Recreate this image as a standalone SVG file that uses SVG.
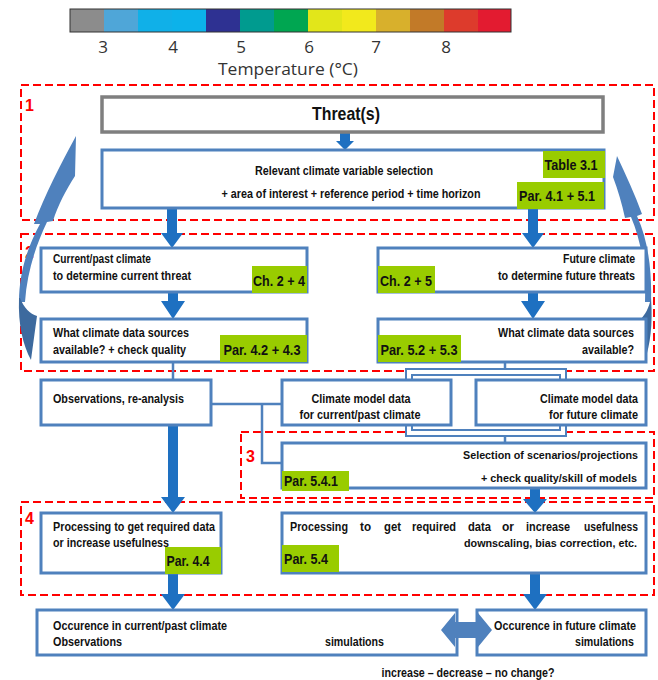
<svg xmlns="http://www.w3.org/2000/svg" width="658" height="680" viewBox="0 0 658 680">
  <style>
    .box { fill: #ffffff; stroke: #4f81bd; stroke-width: 3; }
    .gray { fill: #ffffff; stroke: #7f7f7f; stroke-width: 3.5; }
    .tag { fill: #99cc00; }
    .zone { fill: none; stroke: #ff0000; stroke-width: 2; stroke-dasharray: 8 4; }
    .zl { font-family: "Liberation Sans", Arial, sans-serif; font-weight: bold; font-size: 16px; fill: #ff0000; }
    .t { font-family: "Liberation Sans", Arial, sans-serif; font-weight: bold; font-size: 12.5px; fill: #111111; }
    .s { font-size: 11.5px; }
    .g { font-family: "Liberation Sans", Arial, sans-serif; font-weight: bold; font-size: 15px; fill: #111111; text-anchor: middle; }
    .r { text-anchor: end; }
    .m { text-anchor: middle; }
    .arrow { fill: #1e70c1; }
    .thin { fill: none; stroke: #4f81bd; stroke-width: 2.5; }
    .bracket { fill: none; stroke: #4f81bd; stroke-width: 8; stroke-linejoin: miter; }
    .bracket-in { fill: none; stroke: #ffffff; stroke-width: 4; stroke-linejoin: miter; }
    .scale { font-family: "Open Sans", "Noto Sans", sans-serif; font-size: 17px; fill: #333333; text-anchor: middle; }
  </style>

  <!-- temperature colour scale -->
  <g id="colorbar">
    <rect x="70" y="9" width="34" height="23" fill="#8c8c8c"/>
    <rect x="104" y="9" width="34" height="23" fill="#4fa6d8"/>
    <rect x="138" y="9" width="34" height="23" fill="#10b0e8"/>
    <rect x="172" y="9" width="34" height="23" fill="#0cb2ea"/>
    <rect x="206" y="9" width="34" height="23" fill="#2e3192"/>
    <rect x="240" y="9" width="34" height="23" fill="#009b8f"/>
    <rect x="274" y="9" width="34" height="23" fill="#00a651"/>
    <rect x="308" y="9" width="34" height="23" fill="#e2e61a"/>
    <rect x="342" y="9" width="34" height="23" fill="#f2e91c"/>
    <rect x="376" y="9" width="34" height="23" fill="#d8b02c"/>
    <rect x="410" y="9" width="34" height="23" fill="#c27a28"/>
    <rect x="444" y="9" width="34" height="23" fill="#dd3b2c"/>
    <rect x="478" y="9" width="33" height="23" fill="#e31b30"/>
    <rect x="70" y="9" width="441" height="23" fill="none" stroke="#333333" stroke-width="1"/>
    <text class="scale" x="103" y="53">3</text>
    <text class="scale" x="173" y="53">4</text>
    <text class="scale" x="241" y="53">5</text>
    <text class="scale" x="309" y="53">6</text>
    <text class="scale" x="376" y="53">7</text>
    <text class="scale" x="446" y="53">8</text>
    <text class="scale" x="288" y="75" textLength="140" lengthAdjust="spacingAndGlyphs">Temperature (°C)</text>
  </g>

  <!-- numbered step zones -->
  <g id="zones">
    <rect class="zone" x="21" y="85" width="633" height="135"/>
    <rect class="zone" x="21" y="234" width="633" height="137"/>
    <rect class="zone" x="241" y="432" width="413" height="66"/>
    <rect class="zone" x="21" y="502" width="633" height="93"/>
    <text class="zl" x="25" y="111">1</text>
    <text class="zl" x="25" y="258">2</text>
    <text class="zl" x="246" y="462">3</text>
    <text class="zl" x="25" y="524">4</text>
  </g>

  <!-- connectors -->
  <g id="connectors">
    <!-- feedback loops on both sides -->
    <path fill="#4f81bd" d="M76,136 L75,176 C66,190 58,205 53,221 L47,222 C36,245 27,272 25,302 L19,302 C19,272 28,246 40,224 L34,224 C45,195 60,165 76,136 Z"/>
    <path fill="#3d6a9e" d="M19,298 C18,325 23,345 31,360 C33,345 35,330 37,316 C30,314 24,308 20,298 Z"/>
    <path fill="#4f81bd" d="M617,156 L613,177 C618,190 622,204 625,218 L631,217 C641,240 646,270 645,302 L651,302 C652,270 648,240 637,216 L642,214 C635,195 626,175 617,156 Z"/>
    <path fill="#3d6a9e" d="M651,298 C653,325 650,345 645,360 C642,348 640,335 640,320 C645,315 649,308 651,298 Z"/>

    <!-- main flow arrows -->
    <path class="arrow" d="M340,132 L350,132 L350,141 L354,141 L345,150 L336,141 L340,141 Z"/>
    <path class="arrow" d="M167,209 L177,209 L177,233 L183,233 L172,248 L161,233 L167,233 Z"/>
    <path class="arrow" d="M528,209 L538,209 L538,233 L544,233 L533,248 L522,233 L528,233 Z"/>
    <path class="arrow" d="M168,293 L178,293 L178,301 L185,301 L173,319 L161,301 L168,301 Z"/>
    <path class="arrow" d="M528,293 L538,293 L538,301 L545,301 L533,319 L521,301 L528,301 Z"/>
    <path class="arrow" d="M168,426 L178,426 L178,497 L185,497 L173,513 L161,497 L168,497 Z"/>
    <path class="arrow" d="M530,489 L540,489 L540,499 L547,499 L535,513 L523,499 L530,499 Z"/>
    <path class="arrow" d="M168,574 L178,574 L178,594 L185,594 L173,610 L161,594 L168,594 Z"/>
    <path class="arrow" d="M530,574 L540,574 L540,594 L547,594 L535,610 L523,594 L530,594 Z"/>

    <!-- data source links -->
    <path class="thin" d="M173,362 L173,380"/>
    <path class="thin" d="M211,404 L282,404"/>
    <path class="thin" d="M262,404 L262,463 L282,463"/>
    <path class="thin" d="M505,362 L505,368"/>
    <path class="bracket" d="M409,380 L409,372 L563,372 L563,380"/>
    <path class="bracket-in" d="M409,381 L409,372 L563,372 L563,381"/>
    <path class="bracket" d="M409,425 L409,433 L563,433 L563,425"/>
    <path class="bracket-in" d="M409,424 L409,433 L563,433 L563,424"/>
    <path class="thin" d="M505,437 L505,443"/>
  </g>

  <g id="threat">
    <rect class="gray" x="102" y="97" width="501" height="35"/>
    <text class="t m" x="346" y="120" style="font-size:19px" textLength="68" lengthAdjust="spacingAndGlyphs">Threat(s)</text>
  </g>

  <g id="variable-selection">
    <rect class="box" x="102" y="150" width="502" height="58"/>
    <rect class="tag" x="543" y="151" width="62" height="27"/>
    <rect class="tag" x="517" y="182" width="87" height="27"/>
    <text class="t m" x="344" y="175" textLength="178" lengthAdjust="spacingAndGlyphs">Relevant climate variable selection</text>
    <text class="t m" x="351" y="198" textLength="259" lengthAdjust="spacingAndGlyphs">+ area of interest + reference period + time horizon</text>
    <text class="g" x="571" y="170" textLength="53" lengthAdjust="spacingAndGlyphs">Table 3.1</text>
    <text class="g" x="557" y="201" textLength="76" lengthAdjust="spacingAndGlyphs">Par. 4.1 + 5.1</text>
  </g>

  <g id="current-climate">
    <rect class="box" x="41" y="248" width="266" height="44"/>
    <rect class="tag" x="252" y="266" width="55" height="27"/>
    <text class="t" x="53" y="263" textLength="98" lengthAdjust="spacingAndGlyphs">Current/past climate</text>
    <text class="t" x="53" y="280" textLength="138" lengthAdjust="spacingAndGlyphs">to determine current threat</text>
    <text class="g" x="279" y="286" textLength="52" lengthAdjust="spacingAndGlyphs">Ch. 2 + 4</text>
  </g>

  <g id="future-climate">
    <rect class="box" x="378" y="248" width="268" height="44"/>
    <rect class="tag" x="378" y="266" width="57" height="27"/>
    <text class="t r" x="635" y="263" textLength="72" lengthAdjust="spacingAndGlyphs">Future climate</text>
    <text class="t r" x="635" y="280" textLength="137" lengthAdjust="spacingAndGlyphs">to determine future threats</text>
    <text class="g" x="406" y="286" textLength="52" lengthAdjust="spacingAndGlyphs">Ch. 2 + 5</text>
  </g>

  <g id="current-sources">
    <rect class="box" x="41" y="319" width="266" height="43"/>
    <rect class="tag" x="220" y="335" width="87" height="27"/>
    <text class="t" x="53" y="337" textLength="136" lengthAdjust="spacingAndGlyphs">What climate data sources</text>
    <text class="t" x="53" y="354" textLength="133" lengthAdjust="spacingAndGlyphs">available? + check quality</text>
    <text class="g" x="262" y="355" textLength="77" lengthAdjust="spacingAndGlyphs">Par. 4.2 + 4.3</text>
  </g>

  <g id="future-sources">
    <rect class="box" x="378" y="319" width="268" height="43"/>
    <rect class="tag" x="378" y="335" width="83" height="27"/>
    <text class="t r" x="634" y="337" textLength="136" lengthAdjust="spacingAndGlyphs">What climate data sources</text>
    <text class="t r" x="634" y="354" textLength="52" lengthAdjust="spacingAndGlyphs">available?</text>
    <text class="g" x="419" y="355" textLength="77" lengthAdjust="spacingAndGlyphs">Par. 5.2 + 5.3</text>
  </g>

  <g id="observations">
    <rect class="box" x="41" y="380" width="170" height="45"/>
    <text class="t" x="53" y="403" textLength="131" lengthAdjust="spacingAndGlyphs">Observations, re-analysis</text>
  </g>

  <g id="model-past">
    <rect class="box" x="282" y="380" width="169" height="45"/>
    <text class="t m" x="361" y="403" textLength="99" lengthAdjust="spacingAndGlyphs">Climate model data</text>
    <text class="t m" x="360" y="419" textLength="121" lengthAdjust="spacingAndGlyphs">for current/past climate</text>
  </g>

  <g id="model-future">
    <rect class="box" x="476" y="380" width="170" height="45"/>
    <text class="t r" x="638" y="403" textLength="98" lengthAdjust="spacingAndGlyphs">Climate model data</text>
    <text class="t r" x="638" y="419" textLength="89" lengthAdjust="spacingAndGlyphs">for future climate</text>
  </g>

  <g id="scenario-selection">
    <rect class="box" x="282" y="443" width="364" height="45"/>
    <rect class="tag" x="282" y="471" width="67" height="20"/>
    <text class="t s" x="463" y="459" textLength="175" lengthAdjust="spacingAndGlyphs">Selection of scenarios/projections</text>
    <text class="t s" x="481" y="482" textLength="156" lengthAdjust="spacingAndGlyphs">+ check quality/skill of models</text>
    <text class="g" x="311" y="486" textLength="54" lengthAdjust="spacingAndGlyphs">Par. 5.4.1</text>
  </g>

  <g id="processing-past">
    <rect class="box" x="41" y="513" width="180" height="60"/>
    <rect class="tag" x="165" y="547" width="56" height="27"/>
    <text class="t" x="53" y="531" textLength="162" lengthAdjust="spacingAndGlyphs">Processing to get required data</text>
    <text class="t" x="53" y="547" textLength="116" lengthAdjust="spacingAndGlyphs">or increase usefulness</text>
    <text class="g" x="188" y="566" textLength="43" lengthAdjust="spacingAndGlyphs">Par. 4.4</text>
  </g>

  <g id="processing-future">
    <rect class="box" x="282" y="513" width="364" height="60"/>
    <rect class="tag" x="282" y="545" width="57" height="27"/>
    <!-- justified first line: one text per word -->
    <text class="t" x="290" y="531" textLength="58" lengthAdjust="spacingAndGlyphs">Processing</text>
    <text class="t" x="360" y="531" textLength="11" lengthAdjust="spacingAndGlyphs">to</text>
    <text class="t" x="384" y="531" textLength="17" lengthAdjust="spacingAndGlyphs">get</text>
    <text class="t" x="412" y="531" textLength="44" lengthAdjust="spacingAndGlyphs">required</text>
    <text class="t" x="468" y="531" textLength="23" lengthAdjust="spacingAndGlyphs">data</text>
    <text class="t" x="502" y="531" textLength="12" lengthAdjust="spacingAndGlyphs">or</text>
    <text class="t" x="526" y="531" textLength="44" lengthAdjust="spacingAndGlyphs">increase</text>
    <text class="t" x="584" y="531" textLength="54" lengthAdjust="spacingAndGlyphs">usefulness</text>
    <text class="t s" x="464" y="547" textLength="173" lengthAdjust="spacingAndGlyphs">downscaling, bias correction, etc.</text>
    <text class="g" x="306" y="564" textLength="44" lengthAdjust="spacingAndGlyphs">Par. 5.4</text>
  </g>

  <g id="occurrence-past">
    <rect class="box" x="37" y="610" width="420" height="45"/>
    <text class="t" x="53" y="630" textLength="174" lengthAdjust="spacingAndGlyphs">Occurence in current/past climate</text>
    <text class="t" x="53" y="646" textLength="69" lengthAdjust="spacingAndGlyphs">Observations</text>
    <text class="t" x="325" y="646" textLength="59" lengthAdjust="spacingAndGlyphs">simulations</text>
  </g>

  <g id="occurrence-future">
    <rect class="box" x="477" y="610" width="169" height="45"/>
    <text class="t r" x="636" y="630" textLength="142" lengthAdjust="spacingAndGlyphs">Occurence in future climate</text>
    <text class="t r" x="634" y="646" textLength="59" lengthAdjust="spacingAndGlyphs">simulations</text>
  </g>

  <g id="comparison">
    <path fill="#4f81bd" d="M441,630 L455,613 L455,622 L478,622 L478,613 L492,630 L478,647 L478,638 L455,638 L455,647 Z"/>
    <text class="t m" x="468" y="677" textLength="173" lengthAdjust="spacingAndGlyphs">increase – decrease – no change?</text>
  </g>
</svg>
